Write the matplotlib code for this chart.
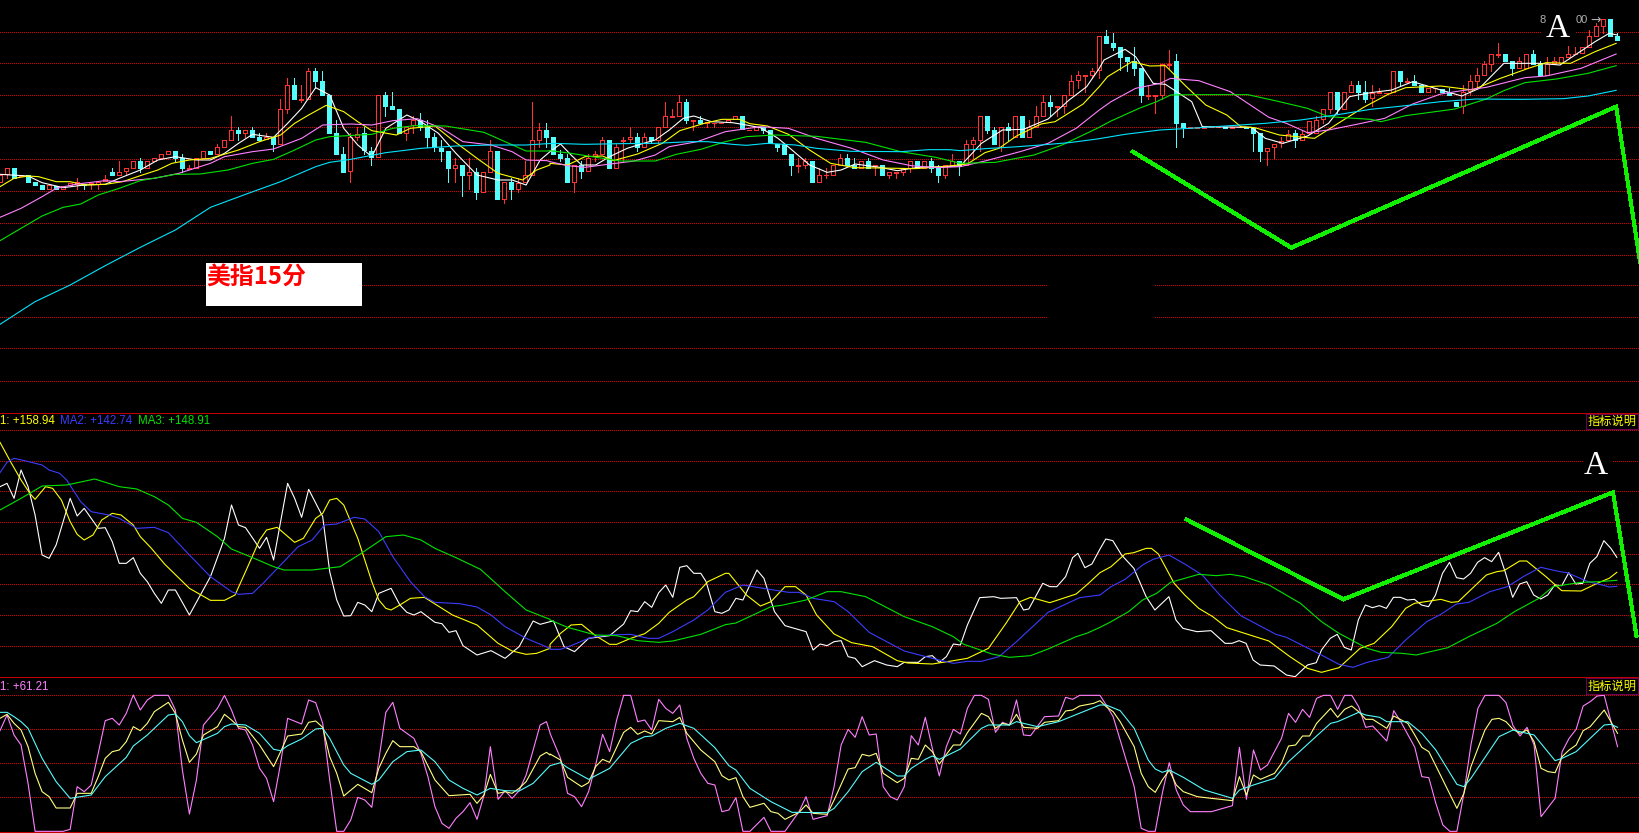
import numpy as np
import matplotlib
matplotlib.use("Agg")
import matplotlib.pyplot as plt

# values in "screen units" (larger = lower on screen),
# so the three panels simply use inverted y axes. No price scale is visible.
opens = [
    545, 522, 504, 529, 526, 546, 555, 566, 558, 566,
    556, 553, 552, 553, 551, 544, 515, 524, 514, 503,
    484, 503, 483, 473, 461, 453, 474, 506, 503, 473,
    454, 461, 440, 419, 391, 398, 391, 412, 418, 412,
    431, 326, 255, 300, 296, 214, 243, 286, 400, 462,
    514, 410, 400, 453, 472, 286, 318, 328, 398, 376,
    360, 380, 412, 443, 454, 503, 496, 524, 517, 575,
    515, 454, 596, 546, 566, 546, 525, 419, 391, 412,
    462, 475, 545, 496, 514, 468, 461, 421, 503, 424,
    418, 412, 440, 412, 419, 380, 351, 347, 307, 364,
    361, 369, 369, 370, 366, 358, 349, 391, 389, 381,
    391, 432, 433, 462, 497, 494, 484, 545, 525, 524,
    494, 475, 496, 503, 484, 497, 496, 524, 518, 515,
    503, 484, 503, 484, 505, 525, 494, 484, 495, 431,
    419, 349, 391, 441, 382, 411, 349, 410, 380, 347,
    307, 320, 317, 284, 241, 227, 224, 211, 108, 129,
    142, 172, 184, 205, 288, 287, 284, 194, 184, 370,
    383, 383, 383, 382, 382, 380, 383, 382, 381, 384,
    399, 452, 440, 429, 419, 400, 419, 400, 398, 358,
    327, 277, 326, 275, 256, 277, 295, 280, 280, 276,
    214, 246, 244, 256, 275, 265, 266, 276, 306, 317,
    274, 242, 224, 191, 164, 163, 184, 205, 203, 163,
    193, 224, 190, 190, 170, 163, 160, 140, 107, 77, 58, 108,
]
closes = [
    526, 505, 533, 526, 545, 554, 566, 555, 566, 558,
    550, 547, 556, 550, 547, 536, 525, 517, 505, 484,
    504, 484, 475, 463, 453, 473, 504, 505, 475, 454,
    461, 442, 421, 391, 398, 391, 410, 420, 411, 431,
    328, 256, 296, 297, 214, 242, 284, 398, 461, 515,
    412, 402, 451, 472, 286, 317, 326, 398, 382, 360,
    380, 410, 441, 453, 503, 496, 524, 517, 575, 517,
    454, 596, 546, 566, 548, 526, 421, 391, 410, 462,
    473, 545, 496, 514, 473, 463, 421, 503, 442, 421,
    412, 441, 412, 420, 382, 349, 349, 307, 359, 361,
    369, 367, 368, 369, 361, 349, 387, 390, 381, 390,
    430, 441, 461, 495, 496, 484, 545, 526, 524, 496,
    475, 495, 503, 484, 504, 496, 525, 517, 517, 505,
    484, 504, 484, 505, 525, 496, 484, 495, 433, 421,
    349, 390, 431, 382, 390, 349, 410, 382, 349, 307,
    317, 319, 286, 244, 226, 226, 214, 109, 128, 141,
    170, 182, 203, 284, 286, 286, 192, 192, 368, 381,
    382, 382, 382, 381, 381, 383, 380, 380, 383, 398,
    453, 443, 433, 422, 401, 420, 402, 362, 360, 328,
    277, 327, 277, 256, 276, 296, 278, 277, 278, 214,
    243, 243, 254, 275, 265, 264, 275, 284, 317, 277,
    244, 226, 193, 163, 163, 183, 203, 184, 163, 192,
    224, 193, 184, 172, 163, 162, 142, 109, 79, 58, 107, 119,
]
highs = [
    526, 505, 504, 526, 526, 546, 555, 555, 558, 558,
    550, 534, 552, 550, 547, 525, 504, 483, 505, 484,
    475, 484, 475, 463, 453, 453, 462, 495, 475, 454,
    454, 433, 421, 348, 381, 391, 381, 400, 400, 412,
    297, 235, 235, 255, 205, 205, 213, 286, 360, 441,
    400, 380, 381, 441, 286, 276, 276, 328, 382, 349,
    339, 360, 400, 420, 454, 473, 496, 475, 505, 517,
    420, 454, 546, 535, 535, 482, 306, 370, 370, 412,
    450, 462, 496, 483, 462, 453, 411, 421, 433, 411,
    381, 400, 400, 412, 382, 306, 328, 286, 297, 361,
    349, 367, 368, 369, 361, 349, 349, 390, 381, 381,
    391, 432, 433, 462, 473, 473, 484, 505, 505, 496,
    462, 462, 475, 484, 475, 496, 496, 517, 517, 505,
    484, 484, 484, 473, 496, 496, 462, 484, 420, 411,
    349, 349, 381, 382, 370, 349, 349, 360, 318, 286,
    286, 319, 286, 224, 213, 226, 205, 109, 90, 99,
    142, 172, 142, 205, 255, 286, 192, 150, 163, 370,
    382, 382, 382, 381, 381, 380, 380, 380, 381, 384,
    399, 443, 433, 410, 390, 390, 390, 362, 348, 328,
    277, 277, 277, 243, 243, 243, 255, 265, 278, 214,
    214, 235, 225, 256, 265, 264, 266, 265, 306, 256,
    225, 205, 184, 163, 129, 163, 184, 172, 163, 150,
    184, 172, 172, 172, 137, 141, 142, 90, 70, 58, 58, 98,
]
lows = [
    545, 533, 533, 529, 545, 554, 566, 566, 566, 566,
    556, 566, 567, 567, 567, 544, 525, 524, 525, 503,
    515, 503, 483, 473, 461, 483, 515, 506, 503, 473,
    461, 461, 440, 419, 420, 410, 410, 420, 418, 452,
    431, 338, 296, 306, 296, 264, 284, 398, 461, 515,
    545, 420, 462, 494, 472, 347, 326, 398, 420, 399,
    390, 440, 452, 483, 545, 545, 587, 566, 597, 575,
    515, 596, 608, 597, 576, 546, 525, 440, 440, 462,
    483, 545, 576, 533, 514, 483, 461, 503, 503, 483,
    430, 452, 440, 430, 430, 380, 351, 347, 369, 390,
    369, 380, 380, 370, 366, 358, 387, 391, 389, 400,
    430, 452, 461, 525, 515, 503, 545, 545, 533, 524,
    494, 495, 503, 503, 504, 525, 525, 533, 533, 525,
    515, 504, 503, 515, 545, 533, 494, 525, 495, 473,
    452, 399, 431, 452, 420, 411, 410, 410, 380, 347,
    348, 347, 338, 284, 265, 276, 233, 233, 128, 150,
    210, 214, 225, 306, 296, 338, 297, 203, 440, 410,
    383, 383, 383, 382, 382, 383, 383, 382, 383, 452,
    483, 494, 473, 440, 419, 440, 419, 400, 398, 369,
    338, 338, 326, 275, 296, 306, 317, 280, 280, 276,
    255, 246, 254, 275, 275, 276, 275, 284, 317, 338,
    285, 265, 224, 214, 172, 183, 225, 205, 203, 192,
    224, 224, 190, 190, 170, 163, 160, 140, 107, 98, 107, 119,
]

# moving averages of the candle panel, (x, y) as read in three stretches
top_white_a = [(0,523),(80,528),(120,548),(180,563),(240,555),(300,553),(340,535),(400,510),(450,480),(500,470),(560,480),(600,480),(640,460),(680,430),(720,403),(780,412),(820,370),(860,325),(900,263),(940,285),(980,385),(1020,435),(1060,470),(1100,385),(1160,345),(1200,365),(1250,400),(1300,460),(1360,525),(1420,540),(1460,540),(1500,555),(1540,480),(1568,455)]
top_white_b = [(0,455),(30,432),(60,465),(90,495),(130,495),(170,470),(220,445),(260,432),(300,420),(340,390),(380,355),(410,348),(460,365),(520,368),(560,375),(600,383),(650,415),(690,450),(740,495),(790,517),(830,510),(870,492),(940,502),(990,512),(1050,502),(1120,500),(1170,498),(1230,430),(1290,390),(1350,388),(1420,357),(1480,300),(1530,260),(1566,205)]
top_white_c = [(40,180),(100,148),(130,170),(180,250),(215,253),(290,305),(320,380),(460,382),(500,415),(550,430),(620,408),(680,370),(740,290),(800,278),(860,270),(920,245),(1000,270),(1060,288),(1110,265),(1180,190),(1280,190),(1340,195),(1440,125),(1480,100),(1503,105)]
top_yellow_a = [(0,560),(40,535),(80,528),(110,530),(160,545),(200,545),(240,555),(300,553),(350,545),(400,527),(450,510),(490,490),(540,480),(600,475),(680,450),(740,425),(800,405),(840,370),(880,345),(930,316),(980,335),(1020,365),(1060,392),(1130,405),(1170,385),(1240,378),(1290,420),(1360,475),(1420,520),(1490,540),(1530,510),(1568,495)]
top_yellow_b = [(0,490),(50,495),(100,470),(150,468),(180,482),(250,462),(320,430),(370,392),(440,370),(490,358),(540,358),(570,371),(620,378),(680,403),(740,450),(800,490),(870,503),(940,504),(1040,506),(1120,500),(1190,492),(1240,458),(1280,445),(1330,408),(1400,372),(1440,365),(1520,312),(1566,260)]
top_yellow_c = [(50,230),(120,185),(170,198),(215,197),(270,255),(330,315),(390,345),(430,380),(470,383),(540,405),(640,415),(700,375),(780,322),(850,283),(900,263),(1000,258),(1090,270),(1170,235),(1250,205),(1300,188),(1370,190),(1440,155),(1500,130)]
top_pink_a = [(0,652),(60,625),(120,590),(160,565),(220,552),(300,542),(340,545),(440,535),(510,520),(600,490),(640,470),(720,455),(780,447),(860,415),(920,375),(1000,372),(1060,375),(1120,362),(1190,356),(1260,385),(1320,425),(1400,435),(1460,455),(1500,480),(1560,482)]
top_pink_b = [(0,485),(50,497),(100,502),(150,495),(240,483),(300,465),(340,440),(420,425),(500,395),(600,380),(680,385),(760,415),(860,445),(950,480),(1030,497),(1100,503),(1170,500),(1240,483),(1340,455),(1420,430),(1500,385),(1566,330)]
top_pink_c = [(60,305),(130,265),(200,250),(230,235),(310,242),(400,275),(510,352),(560,370),(620,398),(680,390),(760,373),(840,355),(920,312),(1000,282),(1060,272),(1130,262),(1240,233),(1300,228),(1400,205),(1500,162)]
top_green_a = [(0,722),(60,685),(120,648),(180,622),(230,612),(280,585),(340,565),(400,542),(500,523),(570,522),(650,510),(720,490),(780,478),(840,450),(900,420),(940,410),(1060,403),(1120,385),(1180,377),(1270,378),(1380,397),(1440,425),(1500,453),(1560,453)]
top_green_b = [(0,452),(60,460),(120,470),(200,483),(300,483),(360,463),(430,448),(500,425),(560,410),(640,405),(760,409),(900,427),(1000,455),(1100,472),(1170,490),(1270,487),(1380,465),(1460,435),(1560,385)]
top_green_c = [(60,363),(140,325),(190,305),(230,285),(300,284),(450,284),(540,305),(620,325),(680,350),(800,358),(830,365),(900,347),(1040,327),(1130,297),(1180,272),(1240,248),(1330,237),(1420,220),(1500,197)]
top_cyan_a = [(0,973),(100,905),(200,855),(300,797),(400,742),(500,690),(600,622),(700,583),(800,545),(900,500),(940,487),(1000,478),(1100,458),(1200,445),(1300,438),(1400,435),(1500,435),(1560,431)]
top_cyan_b = [(10,430),(100,433),(200,431),(300,430),(400,425),(450,425),(520,433),(560,436),(620,430),(700,435),(760,445),(860,454),(1000,455),(1080,449),(1140,449),(1170,452),(1240,446),(1320,441),(1400,435),(1480,428),(1560,417)]
top_cyan_c = [(100,403),(200,390),(300,384),(400,377),(500,370),(600,360),(700,345),(800,328),(900,317),(1000,305),(1100,297),(1230,298),(1350,296),(1420,288),(1500,271)]

mid_white_a = [(0,245),(20,235),(40,280),(60,195),(80,245),(100,330),(120,450),(140,460),(160,420),(200,280),(220,333),(240,310),(280,370),(300,368),(320,410),(340,475),(360,475),(380,458),(400,505),(420,530),(440,565),(460,595),(480,555),(500,555),(540,630),(600,515),(640,400),(660,300),(680,360),(700,368),(740,430),(760,397),(780,465),(820,235),(840,280),(860,337),(880,253),(920,335),(940,500),(960,585),(980,633),(1000,632),(1020,592),(1040,600),(1060,620),(1080,565),(1115,550),(1140,600),(1160,622),(1180,630),(1200,620),(1240,652),(1260,656),(1280,682),(1300,677),(1320,722),(1360,750),(1400,737),(1440,760),(1480,725),(1520,648),(1540,658),(1568,650)]
mid_white_b = [(10,648),(40,725),(70,740),(110,700),(170,692),(210,657),(230,617),(250,620),(270,590),(290,607),(310,563),(330,540),(350,577),(370,487),(390,482),(410,505),(430,505),(445,530),(470,620),(490,625),(510,615),(530,580),(550,585),(590,495),(610,520),(640,620),(670,662),(730,680),(750,735),(770,717),(790,722),(810,710),(830,707),(850,755),(870,760),(890,785),(925,767),(960,780),(990,785),(1010,772),(1050,772),(1070,755),(1090,752),(1110,772),(1130,755),(1150,717),(1170,720),(1190,660),(1225,578),(1265,575),(1285,580),(1330,578),(1350,615),(1365,612),(1405,535),(1425,545),(1445,545),(1470,515),(1490,458),(1505,445),(1525,488),(1545,477),(1568,432)]
mid_white_c = [(45,402),(65,407),(90,450),(125,490),(160,575),(185,615),(225,575),(245,645),(265,670),(305,680),(345,677),(385,715),(405,715),(425,707),(445,715),(465,765),(485,780),(525,783),(560,810),(585,815),(620,780),(645,773),(660,735),(685,700),(705,688),(725,727),(745,735),(765,645),(785,600),(805,608),(825,602),(845,610),(865,577),(885,577),(905,585),(925,583),(945,600),(965,605),(985,570),(1005,505),(1025,472),(1045,518),(1065,522),(1085,505),(1105,472),(1125,458),(1145,470),(1165,442),(1185,505),(1205,577),(1225,537),(1245,530),(1265,570),(1285,582),(1305,570),(1325,540),(1345,542),(1365,503),(1385,537),(1405,535),(1425,475),(1445,455),(1465,407),(1485,430),(1502,457)]
mid_yellow_a = [(0,112),(30,170),(60,225),(85,265),(100,283),(130,245),(150,250),(175,285),(200,350),(220,388),(240,405),(265,390),(290,345),(320,325),(345,330),(380,360),(400,395),(430,428),(470,478),(540,550),(570,568),(600,586),(640,586),(670,570),(700,500),(740,405),(760,375),(790,367),(840,412),(865,400),(900,340),(920,325),(940,285),(960,280),(980,300),(1020,400),(1060,530),(1080,585),(1100,610),(1115,615),(1140,600),(1170,580),(1210,577),(1290,630),(1360,660),(1420,715),(1460,738),(1500,748),(1530,745),(1568,730)]
mid_yellow_b = [(0,718),(30,685),(60,660),(90,658),(130,692),(170,718),(190,718),(230,700),(270,686),(310,655),(340,622),(390,585),(410,575),(450,530),(500,505),(510,505),(560,570),(600,603),(630,590),(670,545),(700,545),(730,570),(760,630),(810,687),(860,713),(920,725),(990,767),(1020,774),(1090,777),(1150,767),(1190,760),(1250,730),(1300,655),(1340,590),(1370,577),(1425,593),(1500,567),(1530,540),(1568,503)]
mid_yellow_c = [(60,485),(100,447),(125,443),(160,430),(175,430),(195,447),(240,535),(270,570),(310,610),(350,635),(390,668),(450,688),(510,708),(570,755),(620,790),(660,802),(710,788),(770,730),(810,715),(860,665),(900,610),(925,595),(1000,583),(1030,592),(1050,590),(1130,510),(1160,500),(1180,497),(1225,468),(1245,468),(1300,515),(1345,557),(1400,558),(1450,533),(1480,520),(1502,502)]
mid_blue_a = [(0,203),(20,172),(40,160),(70,167),(120,180),(140,195),(170,205),(190,225),(230,290),(260,320),(310,330),(340,340),(390,370),(440,367),(480,383),(540,450),(600,515),(660,560),(680,568),(720,565),(750,535),(800,480),(850,425),(890,405),(925,360),(960,357),(1010,337),(1040,342),(1080,380),(1120,455),(1170,530),(1210,575),(1240,592),(1310,596),(1360,606),(1400,630),(1440,665),(1500,700),(1568,730)]
mid_blue_b = [(0,733),(30,733),(60,722),(110,700),(130,695),(170,690),(230,688),(280,700),(310,700),(350,680),(410,645),(450,615),(500,562),(550,540),(620,552),(680,562),(710,562),(750,580),(810,590),(850,620),(910,682),(1010,738),(1090,760),(1150,775),(1190,769),(1230,769),(1280,755),(1330,710),(1420,622),(1510,578),(1568,570)]
mid_blue_c = [(60,545),(100,523),(150,480),(180,463),(225,450),(270,477),(320,510),(370,570),(430,632),(530,688),(560,697),(660,750),(710,778),(750,787),(790,772),(850,757),(900,705),(960,650),(1000,628),(1045,597),(1080,592),(1140,560),(1190,545),(1240,512),(1285,487),(1340,500),(1360,503),(1420,530),(1460,540),(1480,546),(1502,544)]
mid_green_a = [(0,315),(60,280),(120,243),(190,240),(270,222),(340,245),(390,252),(440,275),(480,300),(520,340),(560,352),(620,395),(660,432),(720,458),(780,485),(810,495),(890,495),(970,485),(1030,445),(1100,395),(1150,390),(1200,405),(1240,430),(1300,458),(1370,493),(1440,560),(1500,615),(1568,643)]
mid_green_b = [(0,645),(50,667),(130,690),(190,692),(250,707),(310,712),(350,708),(430,688),(500,659),(530,654),(630,605),(660,601),(730,585),(790,560),(830,560),(900,575),(1010,635),(1090,665),(1150,695),(1180,718),(1260,747),(1310,757),(1370,752),(1420,732),(1500,695),(1530,685),(1568,667)]
mid_green_c = [(60,650),(110,620),(150,585),(190,565),(230,532),(310,508),(360,512),(400,508),(440,515),(510,540),(600,595),(660,650),(710,685),(790,730),(830,742),(890,745),(930,750),(1020,728),(1080,695),(1160,655),(1210,620),(1280,580),(1320,545),(1400,532),(1450,530),(1502,526)]

low_pink_a = [(0,182),(20,135),(40,195),(60,225),(80,340),(100,484),(180,484),(200,478),(220,350),(240,365),(260,345),(280,250),(300,152),(320,145),(340,165),(360,130),(380,75),(400,120),(420,90),(440,76),(480,76),(500,120),(520,300),(540,432),(560,330),(580,165),(620,115),(640,76),(660,120),(680,175),(700,180),(720,225),(740,295),(760,325),(780,395),(800,280),(820,145),(860,162),(880,90),(900,98),(920,160),(940,330),(960,484),(980,484),(1000,450),(1020,382),(1040,390),(1060,412),(1080,270),(1100,127),(1120,97),(1140,175),(1160,190),(1180,205),(1200,250),(1220,320),(1240,410),(1260,460),(1280,475),(1300,445),(1320,425),(1340,398),(1360,448),(1380,375),(1398,230),(1420,388),(1440,362),(1460,385),(1480,362),(1500,315),(1540,165),(1558,155),(1568,188)]
low_pink_b = [(0,190),(30,265),(50,370),(70,380),(90,410),(110,365),(130,285),(150,193),(170,245),(190,150),(210,76),(230,76),(250,155),(270,150),(290,180),(310,88),(330,115),(350,130),(370,105),(390,205),(410,265),(430,310),(450,340),(470,345),(490,425),(510,420),(530,383),(550,484),(570,484),(610,442),(630,484),(670,484),(710,425),(730,380),(750,448),(790,437),(810,350),(830,225),(850,178),(870,202),(890,140),(910,195),(930,192),(950,350),(970,380),(990,390),(1010,350),(1030,197),(1050,225),(1070,142),(1090,235),(1110,318),(1130,230),(1150,178),(1170,192),(1190,115),(1210,76),(1230,76),(1250,88),(1270,187),(1290,157),(1310,165),(1330,90),(1350,195),(1370,197),(1410,140),(1450,138),(1470,82),(1490,88),(1510,76),(1568,76)]
low_pink_c = [(46,105),(66,140),(86,210),(106,280),(126,350),(146,475),(166,484),(186,484),(206,370),(226,278),(246,360),(266,405),(286,425),(346,425),(406,407),(426,232),(446,388),(466,240),(486,300),(506,285),(546,205),(566,130),(586,157),(606,118),(626,142),(646,85),(666,76),(686,76),(706,118),(726,76),(746,76),(766,110),(786,172),(806,168),(846,213),(866,122),(886,155),(926,232),(946,320),(966,323),(986,400),(1006,465),(1026,484),(1046,484),(1066,370),(1086,225),(1106,115),(1126,76),(1166,76),(1186,98),(1206,167),(1226,198),(1246,172),(1266,225),(1286,440),(1326,385),(1346,245),(1366,205),(1386,178),(1406,108),(1426,95),(1446,78),(1466,76),(1504,230)]
low_yellow_a = [(0,145),(20,133),(40,160),(60,180),(80,230),(100,310),(120,365),(140,380),(160,414),(200,414),(220,370),(260,370),(280,320),(300,265),(320,245),(340,240),(360,215),(380,170),(400,182),(420,160),(440,125),(480,97),(500,130),(520,210),(540,277),(560,252),(580,195),(620,170),(640,133),(660,150),(680,170),(700,172),(740,225),(780,290),(800,245),(820,198),(860,192),(880,157),(900,153),(920,172),(940,260),(960,310),(980,378),(1020,343),(1060,368),(1080,295),(1100,250),(1120,212),(1140,230),(1180,230),(1200,245),(1240,330),(1280,377),(1340,373),(1360,400),(1380,375),(1398,313),(1420,370),(1440,365),(1460,370),(1480,355),(1500,335),(1540,258),(1558,247),(1568,255)]
low_yellow_b = [(0,252),(30,270),(50,322),(90,350),(110,338),(130,290),(150,268),(170,277),(210,187),(230,172),(250,193),(270,183),(290,192),(310,152),(350,155),(370,142),(390,190),(430,240),(470,275),(490,317),(510,330),(530,323),(550,380),(570,412),(610,400),(630,425),(650,430),(670,448),(710,427),(730,405),(750,430),(790,433),(810,390),(850,297),(870,293),(890,253),(910,258),(930,250),(950,310),(990,338),(1010,325),(1030,265),(1050,268),(1070,225),(1090,245),(1110,282),(1150,225),(1170,225),(1190,188),(1230,130),(1250,140),(1270,175),(1290,160),(1310,165),(1330,133),(1350,172),(1390,175),(1410,157),(1450,152),(1470,123),(1490,120),(1510,108),(1550,100),(1568,92)]
low_yellow_c = [(46,110),(66,125),(86,155),(126,230),(146,310),(166,350),(186,367),(206,330),(226,300),(246,345),(266,365),(306,380),(346,385),(406,392),(426,320),(446,375),(466,315),(486,328),(526,310),(546,280),(566,228),(586,225),(606,198),(626,198),(646,160),(686,115),(706,142),(726,118),(746,108),(766,125),(786,148),(806,148),(846,175),(866,138),(906,160),(926,195),(946,232),(966,245),(1006,330),(1046,415),(1066,370),(1086,290),(1126,180),(1146,148),(1166,145),(1186,155),(1206,178),(1226,190),(1246,180),(1266,215),(1286,295),(1306,305),(1326,308),(1346,260),(1366,240),(1386,225),(1406,182),(1426,170),(1466,120),(1504,190)]
low_cyan_a = [(0,127),(20,127),(40,140),(60,155),(80,175),(100,220),(120,265),(160,335),(200,385),(260,375),(300,320),(360,262),(380,228),(420,195),(480,135),(500,132),(520,155),(540,197),(560,218),(620,190),(640,170),(660,162),(700,165),(740,190),(780,238),(800,242),(820,227),(860,207),(900,177),(920,175),(940,205),(980,285),(1000,310),(1060,343),(1080,330),(1120,275),(1160,245),(1200,240),(1240,275),(1280,330),(1320,355),(1360,375),(1398,355),(1440,362),(1480,363),(1520,340),(1568,287)]
low_cyan_b = [(0,287),(30,278),(50,293),(110,328),(170,295),(230,220),(270,200),(290,198),(330,175),(370,160),(410,175),(470,233),(510,287),(530,300),(570,355),(630,395),(690,427),(790,428),(810,415),(850,365),(890,305),(930,277),(990,318),(1010,318),(1030,295),(1070,268),(1090,258),(1110,268),(1170,237),(1230,175),(1250,165),(1310,165),(1330,155),(1390,170),(1450,155),(1568,105)]
low_cyan_c = [(46,105),(86,122),(126,175),(166,270),(186,297),(206,307),(226,300),(266,322),(326,360),(406,385),(426,360),(466,345),(526,325),(566,275),(646,198),(686,160),(706,155),(766,127),(786,135),(826,142),(846,155),(906,155),(946,190),(986,240),(1046,343),(1066,350),(1086,325),(1166,200),(1206,180),(1266,195),(1326,272),(1346,265),(1386,245),(1466,165),(1486,163),(1504,172)]

# hand drawn green trend lines
top_trend = [(122,455),(574,743),(1500,320),(1568,785)]
mid_trend = [(276,344),(722,583),(1491,262),(1558,692)]

top_grid = [95,190,286,382,476,572,668,764,856,952,1044,1143]
mid_grid = [76,167,259,352,446,538,631,724]
low_grid = [76,178,280,382]

RED = "#ff3232"
CYAN = "#54fcfc"
GRID = "#d80000"
LINE = "#c00000"
THIN = 0.72


def bar_x(px, left=0):
    # picture stretch x -> candle number (a candle every 7 pixels)
    return (px / 2.851 + left - 0.4) / 7


def joined(a, b, c):
    xs, ys = [], []
    for stretch, left in ((a, 0), (b, 550), (c, 1090)):
        for px, y in stretch:
            x = bar_x(px, left)
            if not xs or x > xs[-1]:
                xs.append(x)
                ys.append(y)
    return xs, ys


def panel(top_px, bottom_px, y_top, y_bottom):
    ax = fig.add_axes([0, 1 - bottom_px / 833, 1, (bottom_px - top_px) / 833])
    ax.set_xlim(bar_x(0), bar_x(1640 * 2.851))
    ax.set_ylim(y_bottom, y_top)
    ax.axis("off")
    ax.patch.set_visible(False)
    return ax


def grid(ax, rows, x0=None, x1=None):
    x0 = ax.get_xlim()[0] if x0 is None else x0
    x1 = ax.get_xlim()[1] if x1 is None else x1
    ax.hlines(rows, x0, x1, colors=GRID, lw=0.72, linestyles=(0, (1, 2)),
              antialiased=False, zorder=1)


def curve(ax, a, b, c, color):
    xs, ys = joined(a, b, c)
    ax.plot(xs, ys, color=color, lw=0.8, zorder=5)


plt.rcParams["font.family"] = ["Liberation Sans", "Noto Sans CJK SC", "DejaVu Sans"]

fig = plt.figure(figsize=(16.4, 8.33), dpi=100, facecolor="black")

ax_top = panel(0, 413, 0, 1239)
ax_mid = panel(413, 677, 24, 816)
ax_low = panel(677, 833, 21, 489)

# dots are broken where text and the pasted box sit on top of the chart
grid(ax_top, top_grid[1:8] + top_grid[10:])
grid(ax_top, top_grid[:1], x1=bar_x(1290, 1090))
grid(ax_top, top_grid[:1], x0=bar_x(1385, 1090))
grid(ax_top, top_grid[8:10], x1=bar_x(1420, 550))
grid(ax_top, top_grid[8:10], x0=bar_x(185, 1090))
grid(ax_mid, mid_grid[:1] + mid_grid[2:])
grid(ax_mid, mid_grid[1:2], x1=bar_x(1405, 1090))
grid(ax_mid, mid_grid[1:2], x0=bar_x(1490, 1090))
grid(ax_low, low_grid)

ax_mid.hlines(25, *ax_mid.get_xlim(), colors=LINE, lw=0.72, antialiased=False, clip_on=False, zorder=2)
ax_mid.hlines(815, *ax_mid.get_xlim(), colors=LINE, lw=0.72, antialiased=False, clip_on=False, zorder=2)
ax_low.hlines(487, *ax_low.get_xlim(), colors=LINE, lw=0.72, antialiased=False, clip_on=False, zorder=2)

# candles
n = np.arange(len(closes))
o, c, h, l = map(np.array, (opens, closes, highs, lows))
up = c <= o
colors = np.where(up, RED, CYAN)
ax_top.vlines(n, h, l, colors=colors, lw=THIN, antialiased=False, zorder=3)
ax_top.bar(n, np.abs(o - c), bottom=np.minimum(o, c), width=4 / 7,
           facecolor=[("black" if u else CYAN) for u in up],
           edgecolor=colors, lw=THIN, antialiased=False, zorder=4)

curve(ax_top, top_white_a, top_white_b, top_white_c, "white")
curve(ax_top, top_yellow_a, top_yellow_b, top_yellow_c, "#ffff00")
curve(ax_top, top_pink_a, top_pink_b, top_pink_c, "#ff80ff")
curve(ax_top, top_green_a, top_green_b, top_green_c, "#00e400")
curve(ax_top, top_cyan_a, top_cyan_b, top_cyan_c, "#00e4ff")

curve(ax_mid, mid_white_a, mid_white_b, mid_white_c, "white")
curve(ax_mid, mid_yellow_a, mid_yellow_b, mid_yellow_c, "#ffff00")
curve(ax_mid, mid_blue_a, mid_blue_b, mid_blue_c, "#3c3cff")
curve(ax_mid, mid_green_a, mid_green_b, mid_green_c, "#00e400")

curve(ax_low, low_pink_a, low_pink_b, low_pink_c, "#ff80ff")
curve(ax_low, low_yellow_a, low_yellow_b, low_yellow_c, "#ffff80")
curve(ax_low, low_cyan_a, low_cyan_b, low_cyan_c, "#54fcfc")

ax_top.plot([bar_x(p[0], 1090) for p in top_trend], [p[1] for p in top_trend],
            color="#10f000", lw=2.2, antialiased=False, zorder=6, solid_joinstyle="miter")
ax_mid.plot([bar_x(p[0], 1090) for p in mid_trend], [p[1] for p in mid_trend],
            color="#10f000", lw=2.2, antialiased=False, zorder=6, solid_joinstyle="miter")


def label(px, py, text, color, size, **kw):
    return fig.text(px / 1640, 1 - py / 833, text, color=color, fontsize=size, va="center", zorder=10, **kw)


label(0, 421.5, "1: +158.94", "#ffff00", 8.3)
label(60, 421.5, "MA2: +142.74", "#3c3cff", 8.3)
label(138.5, 421.5, "MA3: +148.91", "#00e400", 8.3)
label(0, 686.5, "1: +61.21", "#ff80ff", 8.3)

tag = dict(boxstyle="square,pad=0.1", facecolor="black", edgecolor="#700050", lw=0.7)
label(1587.5, 421.5, "指标说明", "#ffff00", 8.8, family=["Noto Sans CJK SC"], bbox=tag)
label(1587.5, 686, "指标说明", "#ffff00", 8.8, family=["Noto Sans CJK SC"], bbox=tag)

# white caption box
fig.patches.append(plt.Rectangle((206 / 1640, 1 - 306 / 833), 156 / 1640, 43 / 833, facecolor="white",
                                 edgecolor="none", transform=fig.transFigure, zorder=9))
label(206, 277, "美指15分", "red", 17.2, family=["Noto Sans CJK SC"], weight="bold")

label(1558, 29, "A", "white", 24, family=["Liberation Serif"], ha="center")
label(1576, 20, "00", "#b0b0b0", 8)
label(1590, 20, "→", "#b0b0b0", 9, family=["DejaVu Sans"])
label(1540, 20, "8", "#b0b0b0", 8)
label(1596, 466, "A", "white", 24, family=["Liberation Serif"], ha="center")

fig.savefig("out.png", dpi=100, facecolor="black")
